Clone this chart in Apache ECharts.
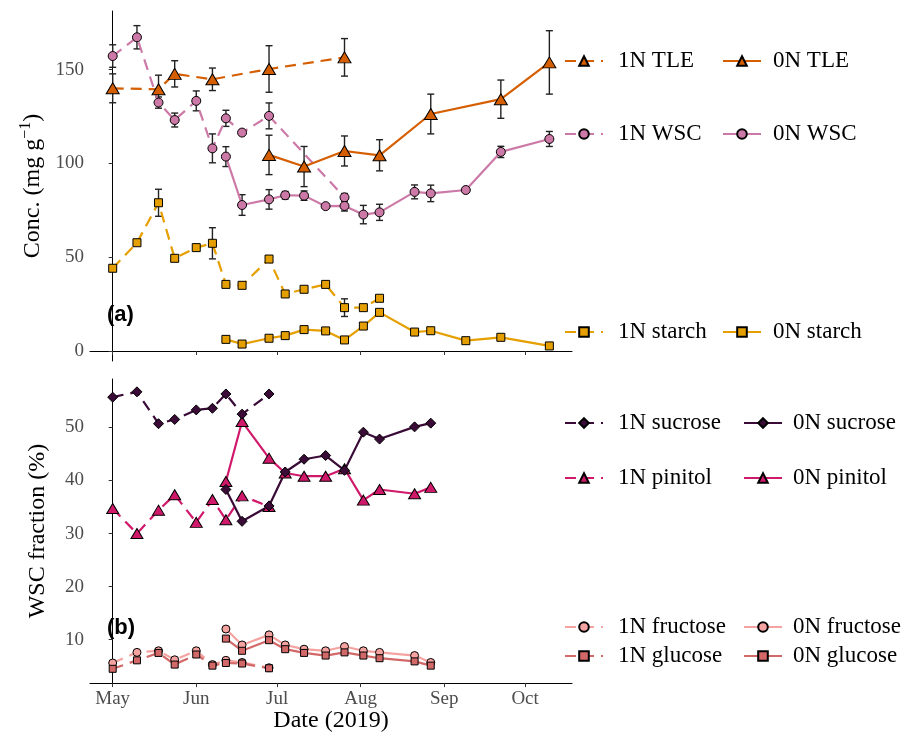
<!DOCTYPE html>
<html><head><meta charset="utf-8">
<script src="https://cdn.jsdelivr.net/npm/echarts@6/dist/echarts.min.js"></script>
<style>html,body{margin:0;padding:0;background:#fff}#c{width:919px;height:734px}</style>
</head><body><div id="c"></div>
<script>
// ---------- data ----------
const monthTicks = ['2019-05-01','2019-06-01','2019-07-01','2019-08-01','2019-09-01','2019-10-01'];
const monthLabels = ['May','Jun','Jul','Aug','Sep','Oct'];
const concTicks = [0, 50, 100, 150];
const fracTicks = [10, 20, 30, 40, 50];

const dates1N = ['2019-05-01','2019-05-10','2019-05-18','2019-05-24','2019-06-01','2019-06-07','2019-06-12','2019-06-18','2019-06-28','2019-07-04','2019-07-11','2019-07-19','2019-07-26','2019-08-02','2019-08-08'];
const dates0N = ['2019-06-12','2019-06-18','2019-06-28','2019-07-04','2019-07-11','2019-07-19','2019-07-26','2019-08-02','2019-08-08','2019-08-21','2019-08-27','2019-09-09','2019-09-22','2019-10-10'];

// panel (a)
const datesTLE1N = ['2019-05-01','2019-05-18','2019-05-24','2019-06-07','2019-06-28','2019-07-26'];
const tle1N    = [140.0, 139.5, 147.7, 144.8, 150.3, 156.5];
const tle1N_se = [7.7, 7.5, 7.0, 6.0, 12.4, 10.0];
const datesTLE0N = ['2019-06-28','2019-07-11','2019-07-26','2019-08-08','2019-08-27','2019-09-22','2019-10-10'];
const tle0N    = [104.5, 98.3, 106.6, 104.3, 126.3, 134.2, 153.8];
const tle0N_se = [10.5, 10.7, 8.0, 8.3, 10.6, 10.2, 16.9];

const datesWSC1N = ['2019-05-01','2019-05-10','2019-05-18','2019-05-24','2019-06-01','2019-06-07','2019-06-12','2019-06-18','2019-06-28','2019-07-26'];
const wsc1N    = [157.2, 167.2, 132.4, 123.1, 133.3, 108.0, 124.0, 116.4, 125.3, 81.9];
const wsc1N_se = [6.0, 6.2, 3.0, 3.7, 5.3, 7.7, 4.3, null, 6.9, 2.0];
const wsc0N    = [103.6, 77.8, 80.8, 83.0, 82.8, 77.2, 77.3, 72.7, 73.9, 84.8, 84.0, 85.8, 106.1, 113.0];
const wsc0N_se = [5.3, 5.5, 5.2, 2.0, 2.5, null, 2.7, 4.9, 4.3, 3.7, 4.4, null, 3.0, 4.0];

const starch1N    = [44.1, 57.7, 79.0, 49.4, 55.1, 57.4, 35.5, 35.0, 49.0, 30.4, 32.9, 35.5, 23.1, 23.1, 28.1];
const starch1N_se = [null, null, 7.2, null, null, 8.3, null, null, null, null, null, null, 4.7, null, null];
const starch0N    = [6.2, 3.7, 6.8, 8.2, 11.4, 10.7, 5.9, 13.3, 20.6, 10.1, 10.8, 5.5, 7.3, 2.7];

// panel (b)
const datesFrac1N = ['2019-05-01','2019-05-10','2019-05-18','2019-05-24','2019-06-01','2019-06-07','2019-06-12','2019-06-18','2019-06-28'];
const sucrose1N  = [55.7, 56.7, 50.7, 51.5, 53.3, 53.6, 56.3, 52.5, 56.3];
const pinitol1N  = [34.7, 30.0, 34.4, 37.3, 32.1, 36.4, 32.6, 37.1, 35.1];
const fructose1N = [5.6, 7.6, 7.9, 6.2, 7.9, 5.3, 6.1, 5.7, 4.7];
const glucose1N  = [4.5, 6.1, 7.5, 5.3, 7.2, 5.1, 5.6, 5.5, 4.6];
const datesFrac0N = ['2019-06-12','2019-06-18','2019-06-28','2019-07-04','2019-07-11','2019-07-19','2019-07-26','2019-08-02','2019-08-08','2019-08-21','2019-08-27'];
const sucrose0N  = [38.3, 32.3, 35.2, 41.6, 44.0, 44.7, 41.9, 49.1, 47.8, 50.1, 50.8];
const pinitol0N  = [39.8, 51.1, 44.2, 41.4, 40.8, 40.8, 42.2, 36.3, 38.3, 37.5, 38.7];
const fructose0N = [12.0, 9.0, 10.9, 9.0, 8.2, 7.9, 8.7, 7.9, 7.6, 7.0, 5.7];
const glucose0N  = [10.2, 7.9, 9.9, 8.2, 7.5, 7.0, 7.6, 7.0, 6.5, 5.9, 5.1];

// ---------- helpers ----------
const ORIGIN = Date.UTC(2019, 4, 1);
function day(s) { const p = s.split('-'); return (Date.UTC(+p[0], +p[1] - 1, +p[2]) - ORIGIN) / 86400000; }
const tickDays = monthTicks.map(day);
const SERIF = 'Liberation Serif';

const COL = {
  TLE: '#D55E00', WSC: '#CC79A7', starch: '#E69F00',
  sucrose: '#3A0B37', pinitol: '#D1196B', fructose: '#F5A3A1', glucose: '#D36868'
};

function ls(name, dates, vals, col, symbol, size, dashed, panel, fill) {
  return {
    type: 'line', name, xAxisIndex: panel, yAxisIndex: panel,
    data: dates.map((d, i) => [day(d), vals[i]]),
    symbol, symbolSize: size, showSymbol: true,
    itemStyle: { color: fill || col, borderColor: '#000', borderWidth: 1 },
    lineStyle: { color: col, width: 2.2, type: dashed ? [11, 7] : 'solid' },
    z: 3, animation: false, silent: true
  };
}
function eb(dates, vals, se, panel) {
  const data = [];
  dates.forEach((d, i) => { if (se[i] != null) data.push([day(d), vals[i] - se[i], vals[i] + se[i]]); });
  return {
    type: 'custom', xAxisIndex: panel, yAxisIndex: panel, z: 2, silent: true, animation: false,
    data,
    renderItem: function (params, api) {
      const x = api.value(0);
      const a = api.coord([x, api.value(1)]), b = api.coord([x, api.value(2)]);
      const w = 3.5, st = { stroke: '#222', lineWidth: 1.4 };
      return { type: 'group', children: [
        { type: 'line', shape: { x1: a[0], y1: a[1], x2: b[0], y2: b[1] }, style: st },
        { type: 'line', shape: { x1: a[0] - w, y1: a[1], x2: a[0] + w, y2: a[1] }, style: st },
        { type: 'line', shape: { x1: b[0] - w, y1: b[1], x2: b[0] + w, y2: b[1] }, style: st }
      ]};
    }
  };
}
function leg(name, left, cy, pad) {
  return {
    data: [name], left, top: cy - 12, itemWidth: 38, itemHeight: 12, padding: 0, itemGap: 0,
    selectedMode: false,
    textStyle: { fontFamily: SERIF, fontSize: 23, color: '#000', lineHeight: 24, padding: [0, 0, 0, pad] }
  };
}
function xAx(panel, labels) {
  const o = {
    type: 'value', gridIndex: panel, min: -8.42, max: 170.4,
    axisLine: { show: true, lineStyle: { color: '#000', width: 1 } },
    axisTick: { show: true, length: 4, customValues: tickDays, lineStyle: { color: '#333' } },
    axisLabel: { show: labels, customValues: tickDays, margin: 6, fontFamily: SERIF, fontSize: 19, color: '#4D4D4D',
      formatter: v => { const k = tickDays.indexOf(v); return k >= 0 ? monthLabels[k] : ''; } },
    splitLine: { show: false }
  };
  if (labels) {
    o.name = 'Date (2019)'; o.nameLocation = 'middle'; o.nameGap = 22;
    o.nameTextStyle = { fontFamily: SERIF, fontSize: 24, color: '#000' };
  }
  return o;
}
function yAx(panel, min, max, ticks, name, gap) {
  return {
    type: 'value', gridIndex: panel, min, max,
    axisLine: { show: true, lineStyle: { color: '#000', width: 1 } },
    axisTick: { show: true, length: 4, customValues: ticks, lineStyle: { color: '#333' } },
    axisLabel: { customValues: ticks, margin: 6, fontFamily: SERIF, fontSize: 19, color: '#4D4D4D' },
    splitLine: { show: false },
    name, nameLocation: 'middle', nameRotate: 90, nameGap: gap,
    nameTextStyle: { fontFamily: SERIF, fontSize: 24, color: '#000',
      rich: { n: { fontFamily: SERIF, fontSize: 24, color: '#000' },
              sup: { fontFamily: SERIF, fontSize: 16, color: '#000', verticalAlign: 'top', lineHeight: 30 } } }
  };
}

const series = [
  eb(datesTLE1N, tle1N, tle1N_se, 0), eb(datesTLE0N, tle0N, tle0N_se, 0),
  eb(datesWSC1N, wsc1N, wsc1N_se, 0), eb(dates0N, wsc0N, wsc0N_se, 0),
  eb(dates1N, starch1N, starch1N_se, 0),
  ls('1N starch', dates1N, starch1N, COL.starch, 'rect', 8, true, 0),
  ls('0N starch', dates0N, starch0N, COL.starch, 'rect', 8, false, 0),
  ls('1N WSC', datesWSC1N, wsc1N, COL.WSC, 'circle', 9, true, 0),
  ls('0N WSC', dates0N, wsc0N, COL.WSC, 'circle', 9, false, 0),
  ls('1N TLE', datesTLE1N, tle1N, COL.TLE, 'triangle', [13, 11], true, 0),
  ls('0N TLE', datesTLE0N, tle0N, COL.TLE, 'triangle', [13, 11], false, 0),

  ls('1N fructose', datesFrac1N, fructose1N, COL.fructose, 'circle', 8, true, 1),
  ls('0N fructose', datesFrac0N, fructose0N, COL.fructose, 'circle', 8, false, 1),
  ls('1N glucose', datesFrac1N, glucose1N, COL.glucose, 'rect', 7, true, 1),
  ls('0N glucose', datesFrac0N, glucose0N, COL.glucose, 'rect', 7, false, 1),
  ls('1N pinitol', datesFrac1N, pinitol1N, COL.pinitol, 'triangle', [12, 10], true, 1),
  ls('0N pinitol', datesFrac0N, pinitol0N, COL.pinitol, 'triangle', [12, 10], false, 1),
  ls('1N sucrose', datesFrac1N, sucrose1N, COL.sucrose, 'diamond', 10, true, 1),
  ls('0N sucrose', datesFrac0N, sucrose0N, COL.sucrose, 'diamond', 10, false, 1)
];

const option = {
  backgroundColor: '#fff',
  animation: false,
  grid: [
    { left: 90, top: 11, width: 482, height: 350 },
    { left: 90, top: 379, width: 482, height: 308 }
  ],
  xAxis: [xAx(0, false), xAx(1, true)],
  yAxis: [
    yAx(0, -5.33, 181.2, concTicks, '{n|Conc. (mg g}{sup|−1}{n|)}', 40),
    yAx(1, 1.81, 59.12, fracTicks, 'WSC fraction (%)', 40)
  ],
  title: [
    { text: '(a)', left: 107, top: 304, padding: 0, textStyle: { fontFamily: 'Liberation Sans', fontWeight: 'bold', fontSize: 22, color: '#000' } },
    { text: '(b)', left: 107, top: 617, padding: 0, textStyle: { fontFamily: 'Liberation Sans', fontWeight: 'bold', fontSize: 22, color: '#000' } }
  ],
  legend: [
    leg('1N TLE', 564, 61, 10), leg('0N TLE', 722, 61, 7),
    leg('1N WSC', 564, 134, 10), leg('0N WSC', 722, 134, 7),
    leg('1N starch', 564, 332, 10), leg('0N starch', 722, 332, 7),
    leg('1N sucrose', 564, 423, 10), leg('0N sucrose', 743, 423, 6),
    leg('1N pinitol', 564, 478, 10), leg('0N pinitol', 743, 478, 6),
    leg('1N fructose', 564, 627, 10), leg('0N fructose', 743, 627, 6),
    leg('1N glucose', 564, 656, 10), leg('0N glucose', 743, 656, 6)
  ],
  series
};
const chart = echarts.init(document.getElementById('c'), null, { renderer: 'canvas' });
chart.setOption(option);
</script></body></html>
